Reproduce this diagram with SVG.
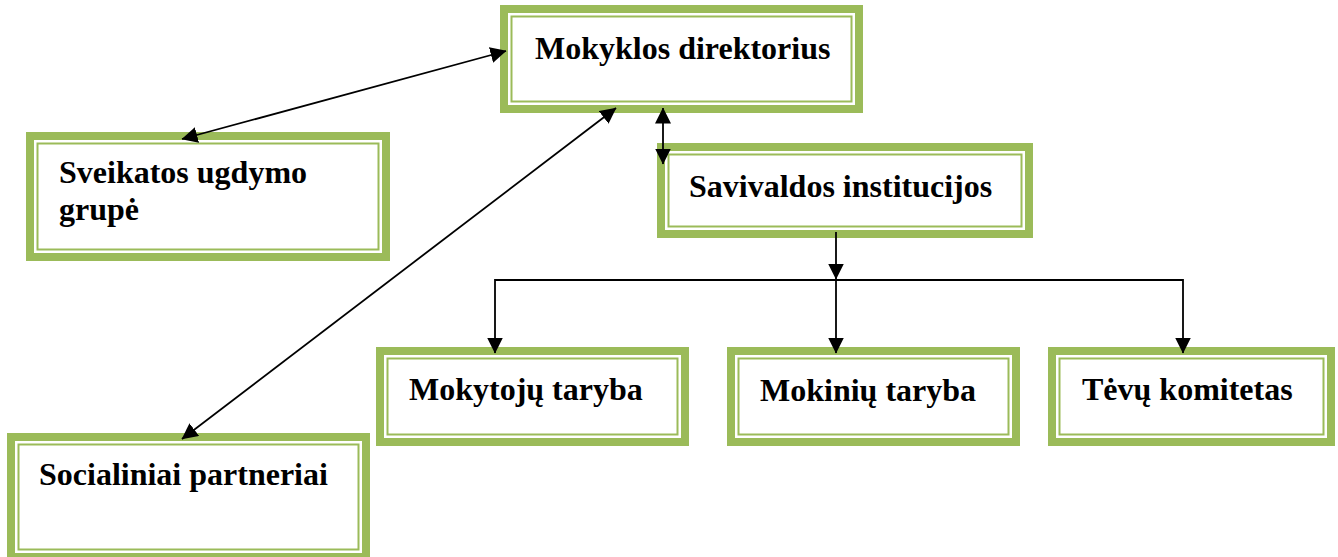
<svg xmlns="http://www.w3.org/2000/svg" width="1338" height="557" viewBox="0 0 1338 557">
<style>
.band{fill:#ffffff;stroke:#9BBB59;stroke-width:8}
.inner{fill:none;stroke:#9BBB59;stroke-width:2}
.lbl{font-family:"Liberation Serif","Times New Roman",serif;font-weight:bold;font-size:32px;fill:#000}
.conn{fill:none;stroke:#000;stroke-width:1.8}
</style>
<defs>
<marker id="ah" markerUnits="userSpaceOnUse" markerWidth="16" markerHeight="16" viewBox="0 0 16 16" refX="15.5" refY="8" orient="auto-start-reverse">
<path d="M0,0 L16,8 L0,16 Z" fill="#000"/>
</marker>
</defs>
<g id="n-direktorius">
<rect class="band" x="504" y="9" width="355" height="100"/>
<rect class="inner" x="511.5" y="16.5" width="340" height="85"/>
<text class="lbl" x="535" y="59">Mokyklos direktorius</text>
</g>
<g id="n-sveikatos">
<rect class="band" x="30" y="136" width="356" height="121"/>
<rect class="inner" x="37.5" y="143.5" width="341" height="106"/>
<text class="lbl" x="59" y="183">Sveikatos ugdymo</text>
<text class="lbl" x="59" y="220">grupė</text>
</g>
<g id="n-savivaldos">
<rect class="band" x="661" y="147" width="368" height="87"/>
<rect class="inner" x="668.5" y="154.5" width="353" height="72"/>
<text class="lbl" x="689" y="197">Savivaldos institucijos</text>
</g>
<g id="n-mokytoju">
<rect class="band" x="380" y="351" width="305" height="91"/>
<rect class="inner" x="387.5" y="358.5" width="290" height="76"/>
<text class="lbl" x="409" y="400">Mokytojų taryba</text>
</g>
<g id="n-mokiniu">
<rect class="band" x="731" y="351" width="285" height="91"/>
<rect class="inner" x="738.5" y="358.5" width="270" height="76"/>
<text class="lbl" x="760" y="401">Mokinių taryba</text>
</g>
<g id="n-tevu">
<rect class="band" x="1052" y="351" width="279" height="91"/>
<rect class="inner" x="1059.5" y="358.5" width="264" height="76"/>
<text class="lbl" x="1082" y="400">Tėvų komitetas</text>
</g>
<g id="n-socialiniai">
<rect class="band" x="11" y="437" width="355" height="120"/>
<rect class="inner" x="18.5" y="444.5" width="340" height="105"/>
<text class="lbl" x="39" y="485">Socialiniai partneriai</text>
</g>
<g id="connectors">
<line class="conn" x1="506" y1="51" x2="182" y2="139" marker-start="url(#ah)" marker-end="url(#ah)"/>
<line class="conn" x1="616" y1="108" x2="182" y2="439" marker-start="url(#ah)" marker-end="url(#ah)"/>
<line class="conn" x1="663" y1="108" x2="663" y2="164" marker-start="url(#ah)" marker-end="url(#ah)"/>
<line class="conn" x1="836" y1="232" x2="836" y2="279" marker-end="url(#ah)"/>
<polyline class="conn" points="495,353 495,280 1183,280 1183,353" marker-start="url(#ah)" marker-end="url(#ah)"/>
<line class="conn" x1="836" y1="280" x2="836" y2="353" marker-end="url(#ah)"/>
</g>
</svg>
